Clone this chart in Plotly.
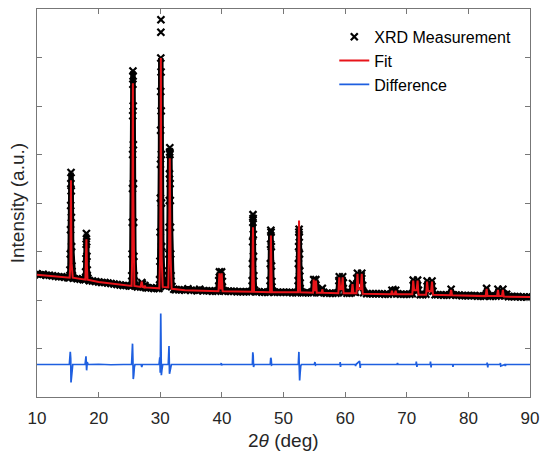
import plotly.graph_objects as go

# ---- data (y in arbitrary units, axis 0..8) ----
meas_points = [
    (10.0, 2.54), (10.5, 2.52), (11.0, 2.53), (11.5, 2.51), (12.0, 2.51), (12.5, 2.50), (13.0, 2.49),
    (13.5, 2.48), (14.0, 2.48), (14.5, 2.47), (15.0, 2.46), (15.25, 2.46),
    (15.35, 2.62), (15.40, 2.95), (15.44, 3.45), (15.47, 3.95), (15.50, 4.40), (15.52, 4.63), (15.55, 4.25),
    (15.58, 3.70), (15.62, 3.10), (15.67, 2.70), (15.75, 2.50), (15.9, 2.45),
    (16.5, 2.44), (17.0, 2.43), (17.5, 2.42), (17.8, 2.42),
    (17.9, 2.58), (17.95, 2.85), (17.98, 3.15), (18.02, 3.37), (18.06, 3.20), (18.1, 2.90), (18.15, 2.62),
    (18.25, 2.45), (18.5, 2.40),
    (19.0, 2.39), (19.5, 2.38), (20.0, 2.37), (20.5, 2.36), (21.0, 2.36), (21.5, 2.35), (22.0, 2.34),
    (22.5, 2.33), (23.0, 2.32), (23.5, 2.31), (24.0, 2.30), (24.5, 2.30), (25.0, 2.29), (25.3, 2.29),
    (25.38, 2.5), (25.43, 2.95), (25.47, 3.6), (25.5, 4.3), (25.52, 5.0), (25.54, 5.8), (25.56, 6.45),
    (25.57, 6.72), (25.59, 6.62), (25.61, 6.0), (25.63, 5.2), (25.65, 4.4), (25.68, 3.6), (25.72, 2.9),
    (25.78, 2.5), (25.9, 2.3),
    (26.3, 2.27), (26.8, 2.27), (27.0, 2.36), (27.1, 2.33), (27.3, 2.27), (27.5, 2.30), (27.7, 2.26),
    (28.0, 2.25), (28.5, 2.25), (29.0, 2.24), (29.5, 2.24), (29.8, 2.24),
    (29.9, 2.42), (29.95, 2.8), (29.99, 3.4), (30.02, 4.1), (30.04, 4.8), (30.06, 5.5), (30.08, 6.3),
    (30.09, 6.99), (30.1, 7.52), (30.11, 7.78), (30.13, 6.7), (30.15, 5.9), (30.17, 5.0), (30.2, 4.0),
    (30.24, 3.1), (30.3, 2.6), (30.4, 2.38), (30.6, 2.30), (30.9, 2.28), (31.2, 2.32),
    (31.35, 2.5), (31.4, 2.95), (31.44, 3.5), (31.47, 4.05), (31.5, 4.6), (31.53, 5.05), (31.55, 5.14),
    (31.57, 5.0), (31.6, 4.4), (31.63, 4.05), (31.66, 3.5), (31.7, 2.95), (31.76, 2.5), (31.9, 2.28),
    (32.2, 2.22),
    (32.5, 2.21), (33.0, 2.21), (33.5, 2.21), (34.0, 2.20), (34.5, 2.23), (35.0, 2.20), (35.5, 2.20),
    (36.0, 2.19), (36.4, 2.22), (37.0, 2.19), (37.5, 2.19), (38.0, 2.19), (38.5, 2.18), (39.0, 2.18),
    (39.35, 2.19),
    (39.5, 2.40), (39.6, 2.58), (39.72, 2.45), (39.82, 2.42), (39.95, 2.58), (40.08, 2.38), (40.25, 2.19),
    (40.5, 2.18), (41.0, 2.18), (41.5, 2.18), (42.0, 2.18), (42.5, 2.17), (43.0, 2.17), (43.5, 2.17),
    (44.0, 2.17), (44.5, 2.17), (44.85, 2.18),
    (44.92, 2.4), (44.96, 2.75), (45.0, 3.2), (45.03, 3.6), (45.05, 3.76), (45.07, 3.68), (45.1, 3.35),
    (45.13, 2.9), (45.18, 2.5), (45.3, 2.2),
    (45.6, 2.17), (46.0, 2.17), (46.5, 2.16), (47.0, 2.16), (47.5, 2.16), (47.75, 2.17),
    (47.83, 2.4), (47.87, 2.75), (47.91, 3.15), (47.95, 3.44), (47.98, 3.4), (48.02, 3.1), (48.06, 2.7),
    (48.12, 2.38), (48.25, 2.18),
    (48.5, 2.16), (49.0, 2.16), (49.5, 2.16), (50.0, 2.16), (50.5, 2.16), (51.0, 2.16), (51.5, 2.15),
    (52.0, 2.15), (52.3, 2.16),
    (52.38, 2.4), (52.42, 2.75), (52.46, 3.1), (52.5, 3.4), (52.53, 3.46), (52.56, 3.3), (52.6, 2.95),
    (52.64, 2.6), (52.7, 2.35), (52.85, 2.17),
    (53.2, 2.15), (53.6, 2.15), (54.0, 2.15), (54.5, 2.15), (54.75, 2.17),
    (54.9, 2.42), (55.02, 2.30), (55.12, 2.28), (55.25, 2.42), (55.4, 2.2), (55.7, 2.15), (56.0, 2.15),
    (56.3, 2.24), (56.5, 2.16), (57.0, 2.14), (57.5, 2.14), (58.0, 2.14), (58.5, 2.14), (58.85, 2.15),
    (59.0, 2.40), (59.05, 2.48), (59.15, 2.40), (59.3, 2.32), (59.5, 2.40), (59.6, 2.48), (59.7, 2.35),
    (59.85, 2.16), (60.3, 2.14), (60.7, 2.14), (61.0, 2.15),
    (61.2, 2.34), (61.35, 2.18), (61.7, 2.16),
    (61.9, 2.45), (62.0, 2.55), (62.15, 2.45), (62.4, 2.40), (62.6, 2.50), (62.7, 2.55), (62.85, 2.3),
    (63.0, 2.15),
    (63.5, 2.13), (64.0, 2.13), (64.5, 2.13), (65.0, 2.13), (65.5, 2.13), (66.0, 2.13), (66.5, 2.12),
    (67.0, 2.12), (67.6, 2.2), (67.9, 2.14), (68.2, 2.2), (68.5, 2.13), (69.0, 2.12), (69.5, 2.12),
    (70.0, 2.12), (70.5, 2.12), (70.9, 2.13),
    (71.05, 2.41), (71.2, 2.28), (71.45, 2.26), (71.76, 2.41), (71.9, 2.2), (72.2, 2.11), (72.6, 2.11),
    (73.1, 2.12),
    (73.3, 2.39), (73.5, 2.26), (73.8, 2.25), (74.1, 2.39), (74.25, 2.18), (74.6, 2.11), (75.0, 2.11),
    (75.5, 2.11), (76.0, 2.10), (76.5, 2.10), (77.0, 2.11), (77.2, 2.22), (77.4, 2.11), (78.0, 2.10),
    (78.5, 2.10), (79.0, 2.09), (79.5, 2.09), (80.0, 2.09), (80.5, 2.09), (81.0, 2.09), (81.5, 2.08),
    (82.0, 2.08), (82.5, 2.08), (82.8, 2.09), (82.96, 2.24), (83.15, 2.10), (83.5, 2.08), (84.0, 2.08),
    (84.5, 2.08), (84.8, 2.22), (85.0, 2.10), (85.3, 2.10), (85.6, 2.22), (85.8, 2.09), (86.0, 2.09),
    (86.2, 2.12), (86.5, 2.07), (87.0, 2.07), (87.5, 2.07), (88.0, 2.07), (88.5, 2.06), (89.0, 2.06),
    (89.5, 2.06), (90.0, 2.06),
]

fit_points = [
    (10, 2.52), (12, 2.50), (14, 2.47), (15.3, 2.46), (15.42, 2.75), (15.47, 3.5), (15.51, 4.47),
    (15.56, 3.5), (15.62, 2.75), (15.8, 2.46), (17.85, 2.42), (17.93, 2.7), (18.02, 3.25), (18.1, 2.7),
    (18.2, 2.42), (20, 2.37), (23, 2.32), (25.35, 2.29), (25.45, 2.9), (25.52, 4.5), (25.56, 6.47),
    (25.6, 4.5), (25.67, 2.9), (25.8, 2.29), (26.8, 2.27), (27.0, 2.38), (27.15, 2.27), (27.4, 2.26),
    (27.5, 2.30), (27.6, 2.26), (29.85, 2.24), (29.98, 2.9), (30.05, 4.6), (30.1, 6.99), (30.15, 4.6),
    (30.22, 2.9), (30.4, 2.27), (31.3, 2.26), (31.42, 2.9), (31.5, 4.0), (31.55, 4.92), (31.6, 4.0),
    (31.68, 2.9), (31.85, 2.23), (34.0, 2.20), (39.45, 2.18), (39.6, 2.55), (39.75, 2.22), (39.82, 2.22),
    (39.97, 2.55), (40.12, 2.18), (44.9, 2.17), (44.98, 2.7), (45.05, 3.5), (45.12, 2.7), (45.22, 2.17),
    (47.82, 2.16), (47.9, 2.7), (47.96, 3.33), (48.03, 2.7), (48.12, 2.16), (52.35, 2.16), (52.45, 2.7),
    (52.52, 3.64), (52.59, 2.7), (52.7, 2.16), (54.8, 2.15), (54.9, 2.42), (55.05, 2.2), (55.15, 2.2),
    (55.27, 2.40), (55.4, 2.15), (56.2, 2.15), (56.3, 2.22), (56.4, 2.15), (58.9, 2.14), (59.05, 2.47),
    (59.2, 2.22), (59.45, 2.22), (59.6, 2.47), (59.75, 2.14), (61.05, 2.14), (61.2, 2.33), (61.35, 2.14),
    (61.85, 2.14), (62.0, 2.54), (62.15, 2.22), (62.55, 2.22), (62.7, 2.54), (62.85, 2.13), (67.45, 2.12),
    (67.6, 2.19), (67.75, 2.12), (68.05, 2.12), (68.2, 2.19), (68.35, 2.12), (70.9, 2.12), (71.05, 2.40),
    (71.2, 2.2), (71.6, 2.2), (71.76, 2.40), (71.9, 2.11), (73.15, 2.11), (73.3, 2.38), (73.45, 2.18),
    (73.95, 2.18), (74.1, 2.38), (74.25, 2.11), (77.05, 2.10), (77.2, 2.21), (77.35, 2.10), (82.8, 2.08),
    (82.96, 2.23), (83.1, 2.08), (84.65, 2.08), (84.8, 2.21), (84.95, 2.08), (85.45, 2.08), (85.6, 2.21),
    (85.75, 2.07), (90, 2.06),
]

diff_points = [
    (10.0, 0.67), (12.0, 0.675), (14.0, 0.665), (15.25, 0.67), (15.4, 0.93), (15.47, 0.80), (15.52, 0.30),
    (15.6, 0.40), (15.68, 0.62), (15.8, 0.67), (17.8, 0.67), (17.95, 0.84), (18.05, 0.55), (18.15, 0.72),
    (18.3, 0.67), (20.0, 0.675), (22.0, 0.665), (23.5, 0.68), (24.0, 0.67), (25.35, 0.67), (25.5, 1.10),
    (25.56, 0.80), (25.62, 0.37), (25.7, 0.45), (25.8, 0.62), (25.9, 0.67), (26.9, 0.67), (27.0, 0.62),
    (27.1, 0.67), (29.8, 0.67), (29.93, 0.82), (30.0, 0.50), (30.08, 1.72), (30.13, 0.60),
    (30.18, 0.45), (30.26, 0.55), (30.4, 0.67), (31.3, 0.67), (31.42, 1.05), (31.5, 0.48), (31.58, 0.55),
    (31.66, 0.62), (31.8, 0.67), (35.0, 0.67), (39.85, 0.67), (39.9, 0.70), (39.95, 0.65),
    (40.0, 0.67), (44.95, 0.67), (45.02, 0.92), (45.08, 0.85), (45.14, 0.62), (45.25, 0.67),
    (47.85, 0.67), (47.93, 0.81), (48.0, 0.78), (48.07, 0.66), (48.2, 0.67), (52.4, 0.67), (52.5, 0.93),
    (52.56, 0.60), (52.62, 0.34), (52.7, 0.50), (52.8, 0.64), (52.9, 0.67), (55.0, 0.67), (55.1, 0.72),
    (55.2, 0.66), (55.3, 0.67), (59.15, 0.67), (59.2, 0.72), (59.25, 0.62), (59.3, 0.67), (61.65, 0.67),
    (61.7, 0.64), (61.75, 0.67), (62.35, 0.74), (62.45, 0.60), (62.5, 0.67), (68.4, 0.67), (68.5, 0.70),
    (68.6, 0.67), (71.5, 0.67), (71.55, 0.73), (71.65, 0.62), (71.7, 0.67), (73.8, 0.67), (73.85, 0.73),
    (73.95, 0.61), (74.0, 0.67), (77.45, 0.67), (77.5, 0.62), (77.55, 0.67), (83.0, 0.67), (83.05, 0.71),
    (83.15, 0.61), (83.2, 0.67), (85.15, 0.67), (85.2, 0.70), (85.25, 0.64), (85.9, 0.67), (86.0, 0.64),
    (86.1, 0.67), (90.0, 0.67),
]

x_tick_vals = [10, 20, 30, 40, 50, 60, 70, 80, 90]
x_tick_text = ["10", "20", "30", "40", "50", "60", "70", "80", "90"]

meas_x, meas_y = zip(*meas_points)
# the dense band of markers along the curve (isolated top outliers stay as lone markers)
band_x, band_y = zip(*[(x, y) for x, y in meas_points if y < 7.2])
fit_x, fit_y = zip(*fit_points)
diff_x, diff_y = zip(*diff_points)

FONT = "Arial, Liberation Sans, sans-serif"
RED = "#e8141a"
BLUE = "#1e5fe0"

fig = go.Figure()
fig.add_trace(go.Scatter(x=band_x, y=band_y, mode="lines",
                         line=dict(color="black", width=5.5), showlegend=False, hoverinfo="skip"))
fig.add_trace(go.Scatter(x=meas_x, y=meas_y, mode="markers", name="XRD Measurement",
                         marker=dict(symbol="x-thin", size=7, color="black",
                                     line=dict(color="black", width=2.2))))
fig.add_trace(go.Scatter(x=fit_x, y=fit_y, mode="lines", name="Fit",
                         line=dict(color=RED, width=2)))
fig.add_trace(go.Scatter(x=diff_x, y=diff_y, mode="lines", name="Difference",
                         line=dict(color=BLUE, width=1.7)))

axis_common = dict(showline=True, linecolor="#777777", linewidth=1, mirror="ticks",
                   ticks="inside", ticklen=5, tickcolor="#777777", showgrid=False, zeroline=False)

fig.update_layout(
    width=547, height=457,
    margin=dict(l=37, r=10, t=8, b=60),
    paper_bgcolor="white", plot_bgcolor="white",
    font=dict(family=FONT, color="#262626"),
    xaxis=dict(range=[10, 90], tickvals=x_tick_vals, ticktext=x_tick_text,
               tickfont=dict(size=17, color="#262626"), ticklabelstandoff=6, **axis_common),
    yaxis=dict(range=[0, 8], dtick=1, tick0=0, showticklabels=False, **axis_common),
    legend=dict(x=0.603, y=0.972, xanchor="left", yanchor="top", bgcolor="rgba(0,0,0,0)",
                font=dict(size=16, color="black"), tracegroupgap=0, itemwidth=30),
    showlegend=True,
    annotations=[
        dict(text="2<i>θ</i> (deg)", xref="paper", yref="paper", x=0.5, y=-0.112,
             xanchor="center", yanchor="middle", showarrow=False,
             font=dict(size=19, color="#262626", family=FONT)),
        dict(text="Intensity (a.u.)", xref="paper", yref="paper", x=-0.04, y=0.5,
             xanchor="center", yanchor="middle", textangle=-90, showarrow=False,
             font=dict(size=19, color="#262626", family=FONT)),
    ],
)

fig.write_html("out.html", config={"displayModeBar": False},
               post_script="document.body.style.margin='0';document.body.style.overflow='hidden';")
